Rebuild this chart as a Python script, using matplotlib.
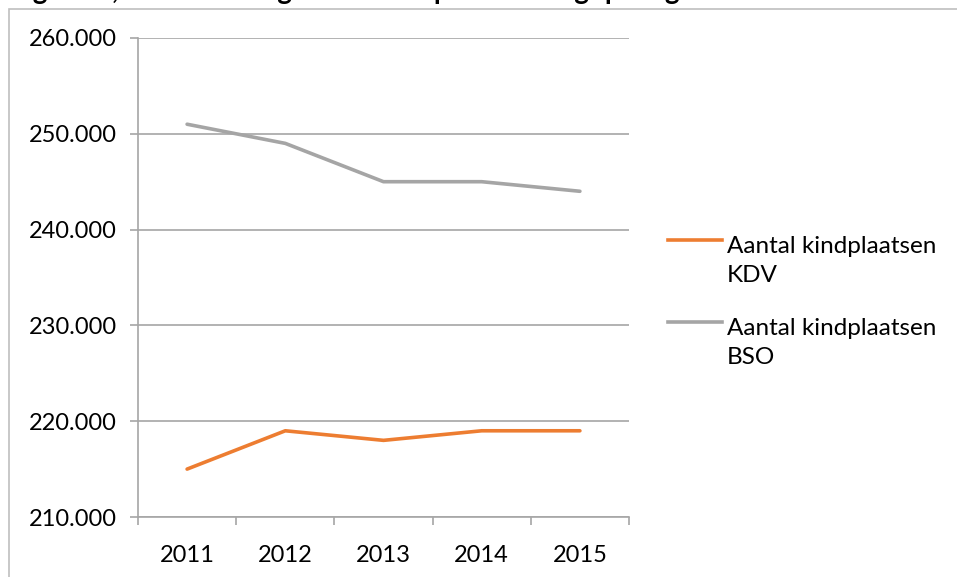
import matplotlib
matplotlib.use("Agg")
import matplotlib.pyplot as plt
from matplotlib.lines import Line2D
from matplotlib.patches import Rectangle
from matplotlib.ticker import FuncFormatter, MultipleLocator

plt.rcParams['font.family'] = ['Lato', 'DejaVu Sans']

years = ["2011", "2012", "2013", "2014", "2015"]
kdv = [215000, 219000, 218000, 219000, 219000]
bso = [251000, 249000, 245000, 245000, 244000]
labels = ["Aantal kindplaatsen\nKDV", "Aantal kindplaatsen\nBSO"]
title = "Figuur 1, Ontwikkeling aantal kindplaatsen dagopvang"

W, H = 957, 577
fig = plt.figure(figsize=(W/100, H/100), dpi=100)
ax = fig.add_axes([138/W, 1-517/H, (629-138)/W, (517-38)/H])

x = list(range(len(years)))
c_kdv = "#ED7D31"
c_bso = "#A5A5A5"
ax.plot(x, kdv, color=c_kdv, lw=2.6, solid_capstyle='round', zorder=3)
ax.plot(x, bso, color=c_bso, lw=2.6, solid_capstyle='round', zorder=3)

FS = 17
ax.set_xlim(-0.5, 4.5)
ax.set_ylim(210000, 260000)
ax.yaxis.set_major_locator(MultipleLocator(10000))
ax.yaxis.set_major_formatter(FuncFormatter(lambda v, p: f"{int(v):,}".replace(",", ".")))
ax.set_xticks(x)
ax.set_xticklabels(years)
ax.set_xticks([i - 0.5 for i in range(len(years) + 1)], minor=True)
ax.tick_params(axis='x', which='major', length=0, pad=20, labelsize=FS)
ax.tick_params(axis='x', which='minor', length=6, color='#A6A6A6', width=1.2)
ax.tick_params(axis='y', length=6, color='#A6A6A6', width=1.2, labelsize=FS, pad=9)

ax.grid(axis='y', color='#A6A6A6', lw=1.2)
ax.set_axisbelow(True)
for s in ['top', 'right']:
    ax.spines[s].set_visible(False)
for s in ['left', 'bottom']:
    ax.spines[s].set_color('#A6A6A6')
    ax.spines[s].set_linewidth(1.2)

# legend (manual)
for ypix, col, lab in [(240, c_kdv, labels[0]), (322, c_bso, labels[1])]:
    fig.add_artist(Line2D([668/W, 722/W], [1-ypix/H, 1-ypix/H], color=col, lw=2.6))
    fig.text(727/W, 1-(ypix-4)/H, lab, fontsize=17.5, va='top', ha='left', linespacing=1.45)

# border
fig.add_artist(Rectangle((9/W, -0.1), 1.2, 1 - 9/H + 0.1, fill=False, ec='#BFBFBF', lw=1.2))

# cut-off title (only the descenders are visible, as in the reference)
fig.text(10/W, 1 - 3.5/H, title, fontsize=20, fontweight='bold', ha='left', va='bottom')

fig.savefig("out.png", dpi=100)
